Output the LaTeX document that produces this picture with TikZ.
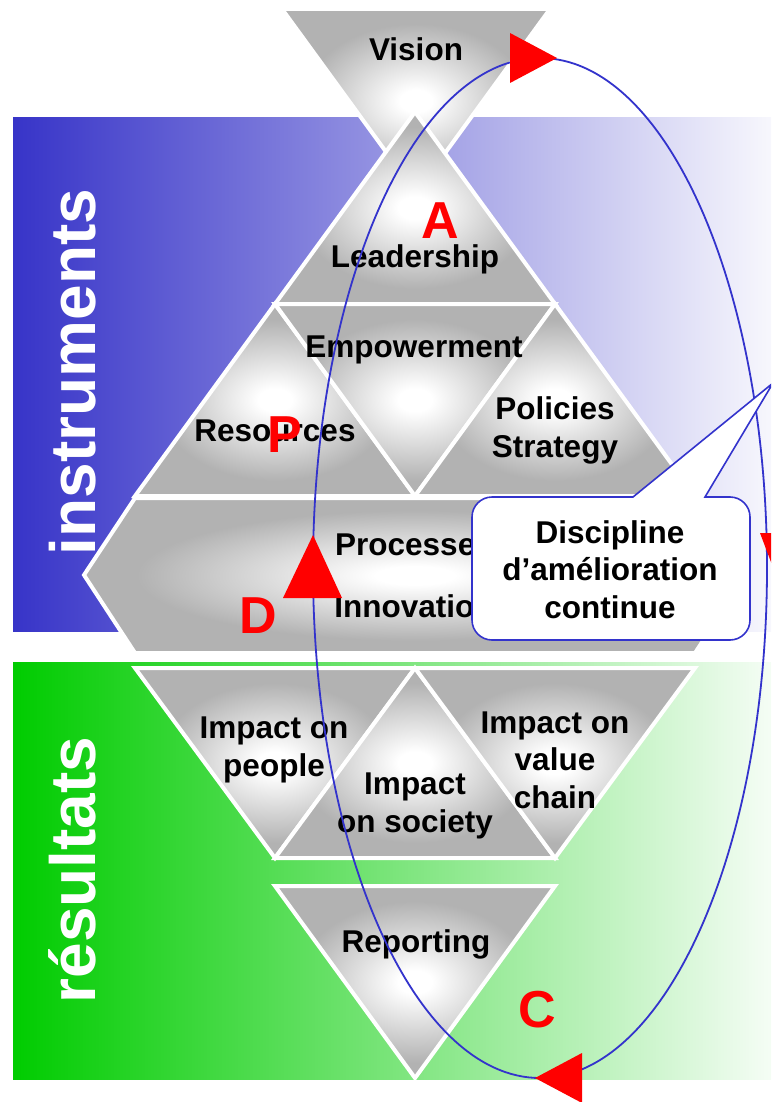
\documentclass[tikz,border=0pt]{standalone}
\usepackage{fontspec}
\setmainfont{Liberation Sans}
\usepackage{xcolor}
\usetikzlibrary{calc,arrows}

\definecolor{bandblue}{RGB}{55,52,200}
\definecolor{bandgreen}{RGB}{0,204,0}
\definecolor{loopblue}{RGB}{51,51,204}
\definecolor{trigrey}{RGB}{178,178,178}
\pgfdeclareradialshading{glow}{\pgfpointorigin}{color(0bp)=(white); color(3bp)=(white); color(21bp)=(trigrey); color(50bp)=(trigrey)}

\tikzset{
	tri/.style={draw=white, line width=4pt, line join=miter, shading=glow},
	lbl/.style={anchor=base, align=center, font=\fontsize{31.5}{37.5}\selectfont\bfseries},
	redletter/.style={anchor=base, text=red, font=\fontsize{52}{52}\selectfont\bfseries},
	sidelabel/.style={anchor=base, rotate=90, text=white, font=\fontsize{64}{64}\selectfont\bfseries},
	redtip/.style={fill=red},
	loopline/.style={draw=loopblue, line width=1.8pt},
	callout/.style={draw=loopblue, fill=white, line width=1.6pt}
}

\begin{document}
\begin{tikzpicture}[x=1pt,y=-1pt]
			\clip (0,0) rectangle (771,1102);
			\fill[white] (0,0) rectangle (771,1102);
			
			\shade[left color=bandblue, right color=bandblue!4] (13,118) rectangle (771,631);
			\shade[left color=bandgreen, right color=bandgreen!4] (13,662) rectangle (771,1079);
			
			\shadedraw[tri] (282,9) -- (550,9) -- (416,193) -- cycle;
			\shadedraw[tri] (415,112) -- (555,304) -- (275,304) -- cycle;
			
			\shadedraw[tri] (275,304) -- (415,496) -- (135,496) -- cycle;
			\shadedraw[tri] (275,304) -- (555,304) -- (415,496) -- cycle;
			\shadedraw[tri] (555,304) -- (695,496) -- (415,496) -- cycle;
			
			\shadedraw[tri] (135,498) -- (695,498) -- (746,575) -- (695,653) -- (135,653) -- (84,575) -- cycle;
			
			\shadedraw[tri] (135,668) -- (415,668) -- (275,858) -- cycle;
			\shadedraw[tri] (415,668) -- (555,858) -- (275,858) -- cycle;
			\shadedraw[tri] (415,668) -- (695,668) -- (555,858) -- cycle;
			
			\shadedraw[tri] (275,886) -- (555,886) -- (415,1078) -- cycle;
			
			\node[sidelabel] (instruments) at (95,372) {instruments};
			\node[sidelabel] (resultats) at (95,870) {résultats};
			
			\node[lbl] (vision) at (416,61) {Vision};
			\node[lbl] (leadership) at (415,267) {Leadership};
			\node[lbl] (empowerment) at (414,357) {Empowerment};
			\node[lbl] (resources) at (275,441) {Resources};
			\node[lbl] (policies) at (555,457) {Policies\\Strategy};
			\node[lbl] (processes) at (414,555) {Processes};
			\node[lbl] (innovation) at (414,617) {Innovation};
			\node[lbl] (people) at (274,776) {Impact on\\people};
			\node[lbl] (society) at (415,832) {Impact\\on society};
			\node[lbl] (valuechain) at (555,808) {Impact on\\value\\chain};
			\node[lbl] (reporting) at (416,952) {Reporting};
			
			\draw[loopline] (540,568) ellipse [x radius=227, y radius=510];
			
			\draw[callout] (633,497) -- (773,383) -- (705,497) [rounded corners=20] -- (750,497) -- (750,640) -- (472,640) -- (472,497) [sharp corners] -- (633,497) -- cycle;
			\node[lbl] (discipline) at (610,618) {Discipline\\d’amélioration\\continue};
			
			\fill[redtip] (510,33) -- (557,58) -- (510,83) -- cycle;
			\fill[redtip] (313,535) -- (342,598) -- (283,598) -- cycle;
			\fill[redtip] (535,1078) -- (582,1053) -- (582,1103) -- cycle;
			\fill[redtip] (760,533) -- (800,533) -- (780,586) -- cycle;
			
			\node[redletter] (aletter) at (440,238) {A};
			\node[redletter] (pletter) at (285,452) {P};
			\node[redletter] (dletter) at (258,633) {D};
			\node[redletter] (cletter) at (537,1027) {C};
\end{tikzpicture}
\end{document}
